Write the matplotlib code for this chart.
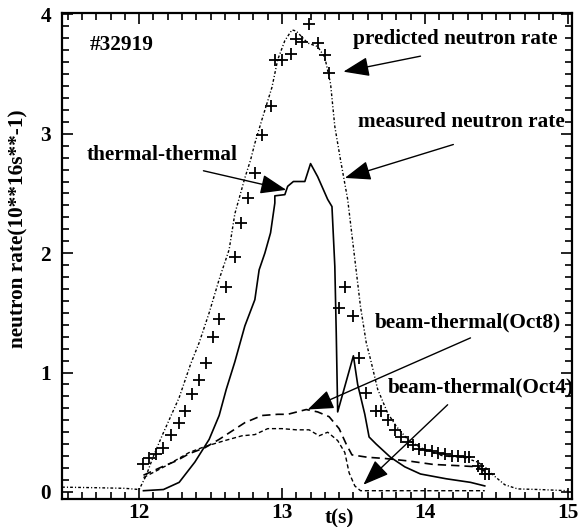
import matplotlib

matplotlib.use("Agg")

import matplotlib.pyplot as plt
from matplotlib.ticker import MultipleLocator

plt.rcParams["font.family"] = ["Liberation Serif", "DejaVu Serif"]
plt.rcParams["font.weight"] = "bold"
plt.rcParams["font.size"] = 15.3

# measured neutron rate (dotted line)
meas_t = [11.46, 11.7, 11.9, 12.0, 12.05, 12.1, 12.16, 12.28, 12.36, 12.42, 12.49,
          12.56, 12.63, 12.67, 12.74, 12.78, 12.81, 12.86, 12.93, 12.97, 13.02, 13.07,
          13.10, 13.18, 13.25, 13.30, 13.32, 13.34, 13.37, 13.41, 13.46, 13.51, 13.55,
          13.59, 13.62, 13.67, 13.74, 13.80, 13.88, 13.97, 14.13, 14.27, 14.37, 14.42,
          14.48, 14.56, 14.65, 14.80, 15.0]
meas_y = [0.04, 0.035, 0.03, 0.02, 0.14, 0.30, 0.47, 0.79, 1.07, 1.25, 1.50,
          1.78, 2.03, 2.33, 2.63, 2.78, 2.92, 3.12, 3.39, 3.62, 3.78, 3.87,
          3.86, 3.76, 3.73, 3.64, 3.53, 3.42, 3.06, 2.78, 2.45, 1.95, 1.55,
          1.25, 1.11, 0.86, 0.66, 0.55, 0.44, 0.37, 0.30, 0.29, 0.25, 0.21,
          0.14, 0.06, 0.025, 0.02, 0.01]

# predicted neutron rate (crosses)
pred_t = [12.03, 12.07, 12.12, 12.17, 12.22, 12.28, 12.32, 12.37, 12.42, 12.47, 12.52,
          12.56, 12.61, 12.67, 12.71, 12.76, 12.81, 12.86, 12.92, 12.95, 13.00, 13.06,
          13.10, 13.14, 13.19, 13.25, 13.30, 13.33, 13.40, 13.44, 13.50, 13.54, 13.59,
          13.66, 13.69, 13.74, 13.79, 13.83, 13.88, 13.92, 13.96, 14.00, 14.05, 14.09,
          14.14, 14.19, 14.23, 14.28, 14.31, 14.37, 14.40, 14.42, 14.45]
pred_y = [0.23, 0.28, 0.32, 0.37, 0.48, 0.58, 0.68, 0.82, 0.94, 1.08, 1.30,
          1.45, 1.72, 1.97, 2.25, 2.46, 2.67, 2.99, 3.23, 3.62, 3.62, 3.67,
          3.79, 3.77, 3.92, 3.76, 3.66, 3.51, 1.54, 1.72, 1.47, 1.12, 0.83,
          0.68, 0.68, 0.60, 0.52, 0.46, 0.42, 0.39, 0.36, 0.35, 0.34, 0.33,
          0.32, 0.30, 0.30, 0.29, 0.29, 0.22, 0.19, 0.15, 0.15]

# thermal-thermal (solid)
tt_t = [12.03, 12.17, 12.28, 12.39, 12.49, 12.56, 12.61, 12.67, 12.74, 12.81, 12.84,
        12.88, 12.92, 12.95, 12.95, 13.02, 13.04, 13.08, 13.16, 13.20, 13.25, 13.32,
        13.35, 13.37, 13.38, 13.39, 13.50, 13.53, 13.58, 13.61, 13.66, 13.76, 13.86,
        13.97, 14.15, 14.32, 14.42]
tt_y = [0.01, 0.02, 0.08, 0.25, 0.44, 0.64, 0.86, 1.09, 1.39, 1.61, 1.86,
        2.00, 2.17, 2.42, 2.48, 2.49, 2.56, 2.60, 2.60, 2.75, 2.64, 2.45,
        2.39, 1.89, 1.33, 0.67, 1.14, 0.90, 0.65, 0.46, 0.40, 0.29, 0.21,
        0.15, 0.11, 0.08, 0.05]

# beam-thermal (Oct8), long dashes
oct8_t = [12.03, 12.16, 12.26, 12.35, 12.46, 12.56, 12.65, 12.74, 12.86, 12.97, 13.04,
          13.17, 13.25, 13.33, 13.40, 13.45, 13.49, 13.60, 13.72, 13.88, 14.06, 14.23,
          14.37, 14.45]
oct8_y = [0.14, 0.21, 0.26, 0.32, 0.37, 0.44, 0.51, 0.58, 0.64, 0.65, 0.65,
          0.69, 0.67, 0.63, 0.53, 0.40, 0.31, 0.29, 0.28, 0.26, 0.23, 0.22,
          0.21, 0.15]

# beam-thermal (Oct4), short dashes
oct4_t = [12.03, 12.19, 12.35, 12.46, 12.60, 12.72, 12.81, 12.90, 13.00, 13.10, 13.19,
          13.26, 13.32, 13.39, 13.44, 13.47, 13.51, 13.55, 13.90, 14.42]
oct4_y = [0.12, 0.22, 0.33, 0.38, 0.43, 0.47, 0.48, 0.53, 0.53, 0.52, 0.52,
          0.47, 0.50, 0.43, 0.33, 0.16, 0.05, 0.01, 0.01, 0.01]

fig = plt.figure(figsize=(5.8, 5.27), dpi=100)
ax = fig.add_axes([0.107, 0.053, 0.879, 0.922])

ax.plot(meas_t, meas_y, color="black", lw=1.0, linestyle=(0, (2, 1.5, 0.8, 1.5)))
ax.plot(pred_t, pred_y, "+", color="black", ms=9, mew=1.3)
ax.plot(tt_t, tt_y, color="black", lw=1.2)
ax.plot(oct8_t, oct8_y, color="black", lw=1.2, linestyle=(0, (5, 3)))
ax.plot(oct4_t, oct4_y, color="black", lw=1.0, linestyle=(0, (3, 2)))

ax.set_xlim(11.46, 15.03)
ax.set_ylim(-0.06, 4.01)
ax.set_xticks([12, 13, 14, 15])
ax.set_yticks([0, 1, 2, 3, 4])
ax.xaxis.set_minor_locator(MultipleLocator(0.1))
ax.yaxis.set_minor_locator(MultipleLocator(0.1))
ax.tick_params(which="both", direction="in", top=True, right=True, width=1.2)
ax.tick_params(which="major", length=8)
ax.tick_params(which="minor", length=5)
ax.tick_params(axis="y", pad=8)
ax.tick_params(axis="x", pad=3)
for spine in ax.spines.values():
    spine.set_linewidth(1.6)

fig.text(18 / 580, 1 - 229 / 527, "neutron rate(10**16s**-1)", rotation=90,
         ha="center", va="center")
fig.text(339 / 580, 1 - 518 / 527, "t(s)", ha="center", va="center")

arrow = dict(arrowstyle="-|>,head_length=0.8,head_width=0.3", color="black",
             lw=1.0, mutation_scale=20, shrinkA=0, shrinkB=0)

labels = [
    ("#32919", 90, 45),
    ("thermal-thermal", 87, 155),
    ("predicted neutron rate", 353, 39),
    ("measured neutron rate", 358, 122),
    ("beam-thermal(Oct8)", 375, 322),
    ("beam-thermal(Oct4)", 388, 387),
]
for text, px, py in labels:
    fig.text(px / 580, 1 - py / 527, text, ha="left", va="center")

arrows = [
    ((13.03, 2.53), (12.45, 2.69)),
    ((13.43, 3.52), (13.97, 3.65)),
    ((13.44, 2.63), (14.20, 2.91)),
    ((13.18, 0.69), (14.32, 1.29)),
    ((13.57, 0.06), (14.16, 0.73)),
]
for tip, tail in arrows:
    ax.annotate("", xy=tip, xytext=tail, arrowprops=arrow)

fig.savefig("out.png", dpi=100)
